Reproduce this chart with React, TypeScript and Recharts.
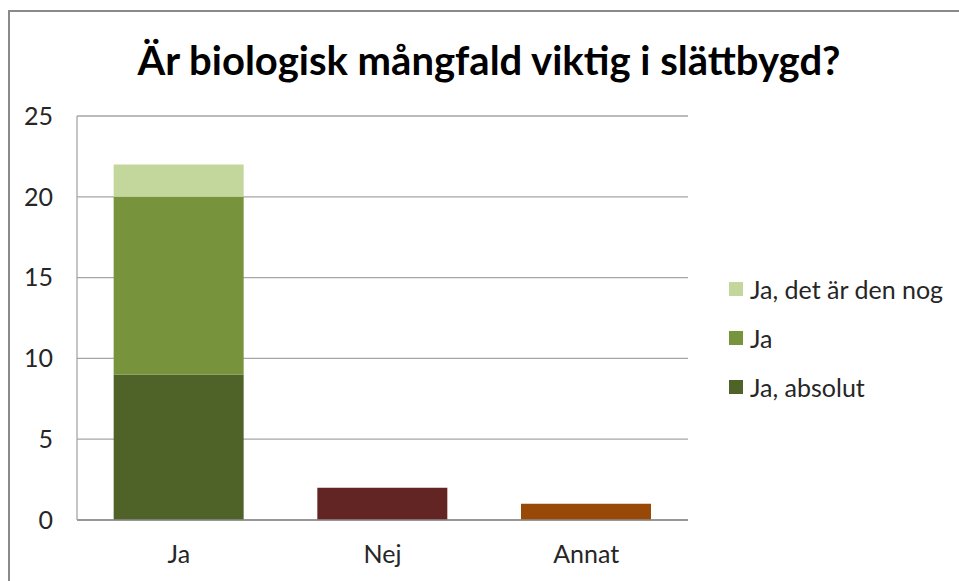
import { BarChart, Bar, XAxis, YAxis, CartesianGrid } from 'recharts'

const categories = ['Ja', 'Nej', 'Annat']
const jaAbsolut = [9, 0, 0]
const jaPlain = [11, 0, 0]
const jaNog = [2, 0, 0]
const nej = [0, 2, 0]
const annat = [0, 0, 1]
const yTicks = [0, 5, 10, 15, 20, 25]

const legendItems = [
  { label: 'Ja, det är den nog', color: '#C3D69B' },
  { label: 'Ja', color: '#77933C' },
  { label: 'Ja, absolut', color: '#4F6228' },
]

const data = categories.map((name, i) => ({
  name,
  absolut: jaAbsolut[i],
  ja: jaPlain[i],
  nog: jaNog[i],
  nej: nej[i],
  annat: annat[i],
}))

const font = 'Lato, "Open Sans", sans-serif'

const ChartLegend = () => (
  <div
    style={{
      position: 'absolute',
      left: 729,
      top: 264,
      fontFamily: font,
      fontSize: 25,
      color: '#262626',
    }}
  >
    {legendItems.map((item) => (
      <div
        key={item.label}
        style={{ display: 'flex', alignItems: 'center', height: 49, whiteSpace: 'nowrap' }}
      >
        <span
          style={{
            display: 'inline-block',
            width: 14,
            height: 14,
            background: item.color,
            marginRight: 7,
          }}
        />
        <span>{item.label}</span>
      </div>
    ))}
  </div>
)

export default function App() {
  return (
    <div
      style={{
        position: 'fixed',
        left: 0,
        top: 0,
        width: 959,
        height: 581,
        overflow: 'hidden',
        background: '#fff',
      }}
    >
      <div
        style={{
          position: 'absolute',
          left: 8,
          top: 10,
          width: 960,
          height: 600,
          borderLeft: '2px solid #8a8a8a',
          borderTop: '2px solid #8a8a8a',
        }}
      />
      <div
        style={{
          position: 'absolute',
          left: 8,
          width: 962,
          top: 36,
          textAlign: 'center',
          fontFamily: font,
          fontWeight: 700,
          fontSize: 40,
          color: '#000',
          whiteSpace: 'nowrap',
        }}
      >
        Är biologisk mångfald viktig i slättbygd?
      </div>
      <BarChart
        width={760}
        height={573}
        data={data}
        margin={{ top: 108, right: 80, left: 0, bottom: 31 }}
        barCategoryGap="18%"
        style={{ position: 'absolute', left: 8, top: 8 }}
      >
        <CartesianGrid vertical={false} stroke="#a6a6a6" strokeWidth={1.3} />
        <XAxis
          dataKey="name"
          height={30}
          tickLine={false}
          tickSize={0}
          tickMargin={25}
          axisLine={{ stroke: '#8c8c8c', strokeWidth: 1.3 }}
          tick={{ fill: '#262626', fontSize: 25, fontFamily: font }}
        />
        <YAxis
          width={69}
          domain={[0, 25]}
          ticks={yTicks}
          tickLine={false}
          tickSize={0}
          tickMargin={24}
          axisLine={{ stroke: '#a6a6a6', strokeWidth: 1.3 }}
          tick={{ fill: '#262626', fontSize: 25, fontFamily: font }}
        />
        <Bar dataKey="absolut" stackId="s" fill="#4F6228" isAnimationActive={false} />
        <Bar dataKey="ja" stackId="s" fill="#77933C" isAnimationActive={false} />
        <Bar dataKey="nog" stackId="s" fill="#C3D69B" isAnimationActive={false} />
        <Bar dataKey="nej" stackId="s" fill="#632523" isAnimationActive={false} />
        <Bar dataKey="annat" stackId="s" fill="#984807" isAnimationActive={false} />
      </BarChart>
      <ChartLegend />
    </div>
  )
}
